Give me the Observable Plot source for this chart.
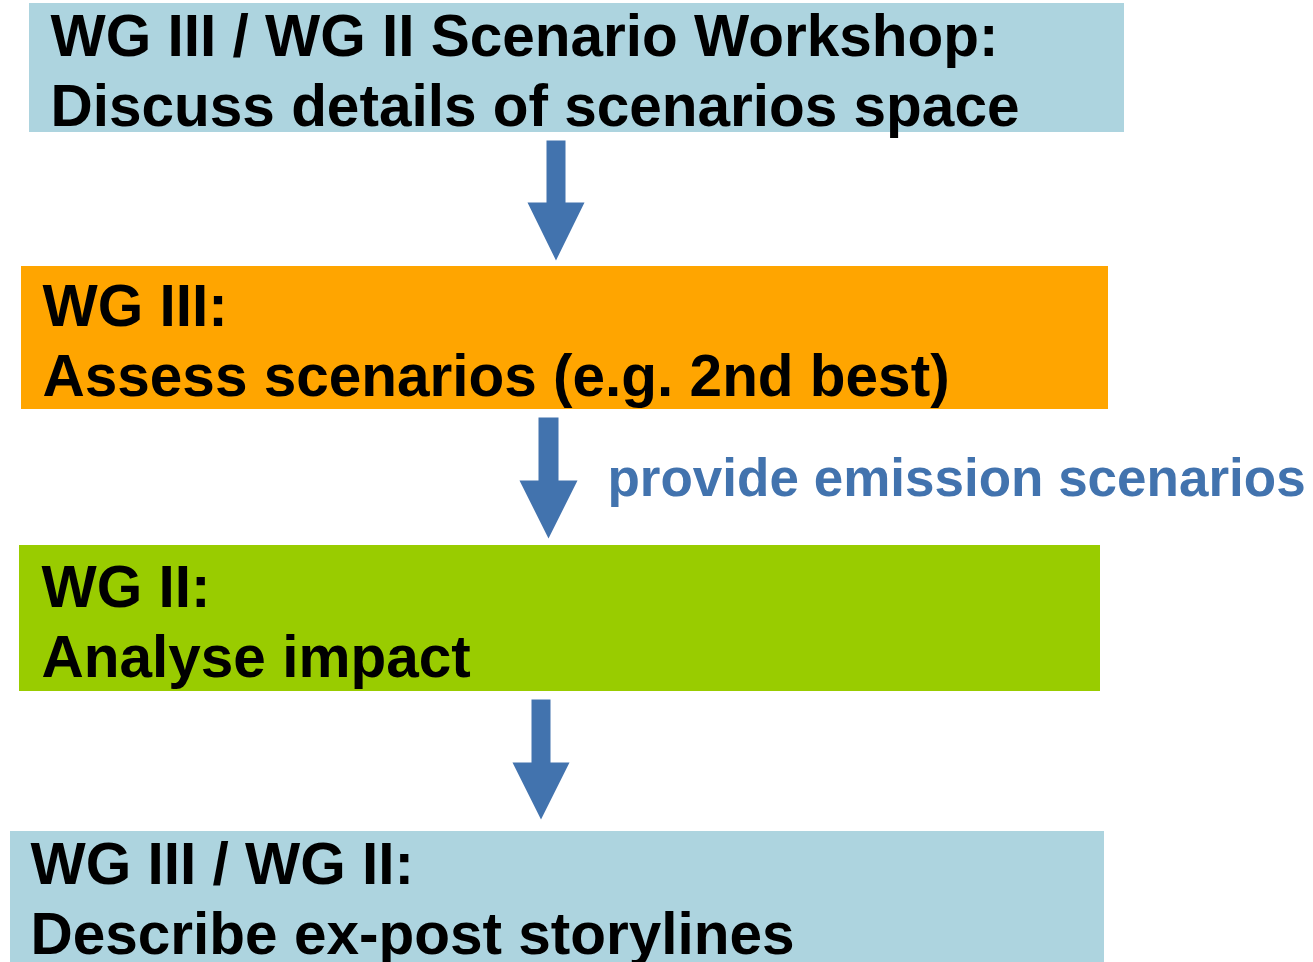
<!DOCTYPE html>
<html>
<head>
<meta charset="utf-8">
<script src="https://cdn.jsdelivr.net/npm/d3@7"></script>
<script src="https://cdn.jsdelivr.net/npm/@observablehq/plot@0.6"></script>
<style>
  html, body { margin: 0; padding: 0; background: #ffffff; }
  #chart svg { display: block; }
</style>
</head>
<body>
<div id="chart"></div>
<script>
// ---- content ----
const stages = ["workshop", "wg3", "wg2", "joint"];
const headings = ["WG III / WG II Scenario Workshop:", "WG III:", "WG II:", "WG III / WG II:"];
const descriptions = ["Discuss details of scenarios space", "Assess scenarios (e.g. 2nd best)", "Analyse impact", "Describe ex-post storylines"];
const arrowLabels = ["", "provide emission scenarios", ""];

// ---- styles ----
const stageColors = ["#add4df", "#ffa500", "#99cc00", "#add4df"];
const arrowColor = "#4273ae";
const font = "'Liberation Sans', Arial, Helvetica, sans-serif";

// ---- layout (pixels in a 1313 x 962 frame) ----
const W = 1313, H = 962;
const boxLayout = [
  {x1: 29, x2: 1124, y1: 3,   y2: 132, tx: 50, b1: 55,  b2: 125},
  {x1: 21, x2: 1108, y1: 266, y2: 409, tx: 42, b1: 325, b2: 395},
  {x1: 19, x2: 1100, y1: 545, y2: 691, tx: 41, b1: 606, b2: 676},
  {x1: 10, x2: 1104, y1: 831, y2: 962, tx: 30, b1: 883, b2: 953}
];
const arrowLayout = [
  {s1: 546, s2: 565, top: 140, head: 202, h1: 527, h2: 584, tip: 260},
  {s1: 538, s2: 558, top: 417, head: 480, h1: 519, h2: 577, tip: 538},
  {s1: 531, s2: 550, top: 699, head: 762, h1: 512, h2: 569, tip: 819}
];
const arrowLabelPos = [null, {x: 607, y: 495}, null];

// ---- build tables ----
const boxes = stages.map((s, i) => ({stage: s, color: stageColors[i], ...boxLayout[i]}));
const lines = stages.flatMap((s, i) => [
  {stage: s, text: headings[i], x: boxLayout[i].tx, y: boxLayout[i].b1},
  {stage: s, text: descriptions[i], x: boxLayout[i].tx, y: boxLayout[i].b2}
]);
const arrowPts = arrowLayout.flatMap((a, i) => {
  const mid = (a.h1 + a.h2) / 2;
  return [
    [a.s1, a.top], [a.s2, a.top], [a.s2, a.head], [a.h2, a.head],
    [mid, a.tip], [a.h1, a.head], [a.s1, a.head], [a.s1, a.top]
  ].map(([x, y]) => ({arrow: i, x, y}));
});
const labels = arrowLabels
  .map((t, i) => ({text: t, ...(arrowLabelPos[i] || {})}))
  .filter(d => d.text);

const chart = Plot.plot({
  width: W,
  height: H,
  margin: 0,
  x: {domain: [0, W], axis: null},
  y: {domain: [0, H], axis: null, reverse: true},
  style: {fontFamily: font, background: "#ffffff"},
  marks: [
    Plot.rect(boxes, {x1: "x1", x2: "x2", y1: "y1", y2: "y2", fill: "color"}),
    Plot.line(arrowPts, {x: "x", y: "y", z: "arrow", fill: arrowColor, stroke: "none", curve: "linear"}),
    Plot.text(lines, {
      x: "x", y: "y", text: "text",
      textAnchor: "start", lineAnchor: "bottom",
      fontSize: 58.5, fontWeight: "bold", fill: "#000000", fontFamily: font
    }),
    Plot.text(labels, {
      x: "x", y: "y", text: "text",
      textAnchor: "start", lineAnchor: "bottom",
      fontSize: 53, fontWeight: "bold", fill: arrowColor, fontFamily: font
    })
  ]
});
document.getElementById("chart").appendChild(chart);
</script>
</body>
</html>
